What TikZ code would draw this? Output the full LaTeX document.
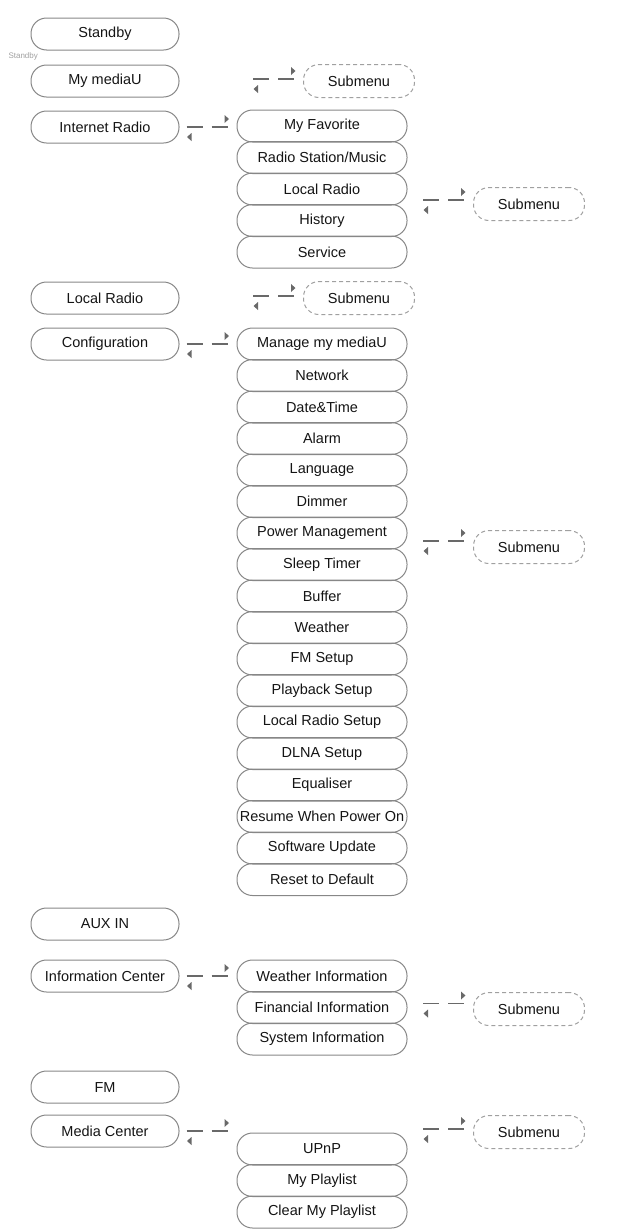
\documentclass[tikz,border=0pt]{standalone}
\usepackage{fontspec}
\setmainfont{Liberation Sans}
\usepackage{tikz}
\usetikzlibrary{
  arrows.meta,
  positioning,
  calc
}
\definecolor{menuline}{RGB}{135,135,135}
\definecolor{menutext}{RGB}{20,20,20}
\definecolor{subline}{RGB}{160,160,160}
\definecolor{lnkgrey}{RGB}{105,105,105}

% dashed two-way link: #1 = y offset from the source row, #2 = source, #3 = target
\newcommand{\menulink}[3][0pt]{%
  \coordinate (lnkA) at ([yshift=#1]#2.east);
  \coordinate (lnkE) at ([xshift=-8pt]#3.west |- lnkA);
  \coordinate (lnkS) at ([xshift=-42pt]lnkE);
  \draw[lnk] (lnkS) -- (lnkE);
  \fill[lnkgrey] ([shift={(-4pt,4pt)}]lnkE) -- ++(0,8pt) -- ++(4.5pt,-4pt) -- cycle;
  \fill[lnkgrey] ([shift={(5pt,-6pt)}]lnkS) -- ++(0,-8pt) -- ++(-4.5pt,4pt) -- cycle;
}

\begin{document}
\begin{tikzpicture}[
  x=1pt, y=-1pt,
  topbox/.style={
    draw=menuline, line width=1pt, rounded corners=15.5pt,
    minimum width=148pt, minimum height=32pt, inner sep=0pt,
    text=menutext, font=\fontsize{14.5}{16}\selectfont
  },
  itembox/.style={topbox, minimum width=170pt},
  subbox/.style={
    topbox, draw=subline, dash pattern=on 4pt off 3pt,
    minimum width=111pt, minimum height=33pt
  },
  lnk/.style={draw=lnkgrey, line width=1.3pt, dash pattern=on 16pt off 9pt},
]
\useasboundingbox (0,0) rectangle (641,1229);

% main menu
\node[topbox] (standby)  at (105,34)   {Standby};
\node[topbox] (mediau)   at (105,81)   {My mediaU};
\node[topbox] (inetradio) at (105,127) {Internet Radio};
\node[topbox] (localradio) at (105,298) {Local Radio};
\node[topbox] (config)   at (105,344)  {Configuration};
\node[topbox] (auxin)    at (105,924)  {AUX IN};
\node[topbox] (infocenter) at (105,976) {Information Center};
\node[topbox] (fm)       at (105,1087) {FM};
\node[topbox] (mediacenter) at (105,1131) {Media Center};

\node[text=subline, font=\fontsize{8}{9}\selectfont, anchor=west] (standbytag) at (5,56) {Standby};

% internet radio
\node[itembox] (favorite) at (322,126)   {My Favorite};
\node[itembox] (station)  at (322,157.5) {Radio Station/Music};
\node[itembox] (inetlocal) at (322,189)  {Local Radio};
\node[itembox] (history)  at (322,220.5) {History};
\node[itembox] (service)  at (322,252)   {Service};

% configuration
\node[itembox] (managemu) at (322,344)   {Manage my mediaU};
\node[itembox] (network)  at (322,375.5) {Network};
\node[itembox] (datetime) at (322,407)   {Date\&Time};
\node[itembox] (alarm)    at (322,438.5) {Alarm};
\node[itembox] (language) at (322,470)   {Language};
\node[itembox] (dimmer)   at (322,501.5) {Dimmer};
\node[itembox] (powermgmt) at (322,533)  {Power Management};
\node[itembox] (sleeptimer) at (322,564.5) {Sleep Timer};
\node[itembox] (buffer)   at (322,596)   {Buffer};
\node[itembox] (weather)  at (322,627.5) {Weather};
\node[itembox] (fmsetup)  at (322,659)   {FM Setup};
\node[itembox] (playsetup) at (322,690.5) {Playback Setup};
\node[itembox] (lrsetup)  at (322,722)   {Local Radio Setup};
\node[itembox] (dlnasetup) at (322,753.5) {DLNA Setup};
\node[itembox] (equaliser) at (322,785)  {Equaliser};
\node[itembox] (resume)   at (322,816.5) {Resume When Power On};
\node[itembox] (swupdate) at (322,848)   {Software Update};
\node[itembox] (reset)    at (322,879.5) {Reset to Default};

% information center
\node[itembox] (weatherinfo) at (322,976)  {Weather Information};
\node[itembox] (financeinfo) at (322,1007.5) {Financial Information};
\node[itembox] (systeminfo)  at (322,1039) {System Information};

% media center
\node[itembox] (upnp)     at (322,1149)   {UPnP};
\node[itembox] (playlist) at (322,1180.5) {My Playlist};
\node[itembox] (clearlist) at (322,1212)  {Clear My Playlist};

% submenus
\node[subbox] (submediau) at (359,81)   {Submenu};
\node[subbox] (subinet)   at (529,204)  {Submenu};
\node[subbox] (sublocal)  at (359,298)  {Submenu};
\node[subbox] (subpower)  at (529,547)  {Submenu};
\node[subbox] (subfinance) at (529,1009) {Submenu};
\node[subbox] (subupnp)   at (529,1132) {Submenu};

\menulink[2pt]{mediau}{submediau}
\menulink{inetradio}{favorite}
\menulink[-11pt]{inetlocal}{subinet}
\menulink[2pt]{localradio}{sublocal}
\menulink{config}{managemu}
\menulink[-8pt]{powermgmt}{subpower}
\menulink{infocenter}{weatherinfo}
\menulink[4pt]{financeinfo}{subfinance}
\menulink{mediacenter}{upnp}
\menulink[20pt]{upnp}{subupnp}

\end{tikzpicture}
\end{document}
